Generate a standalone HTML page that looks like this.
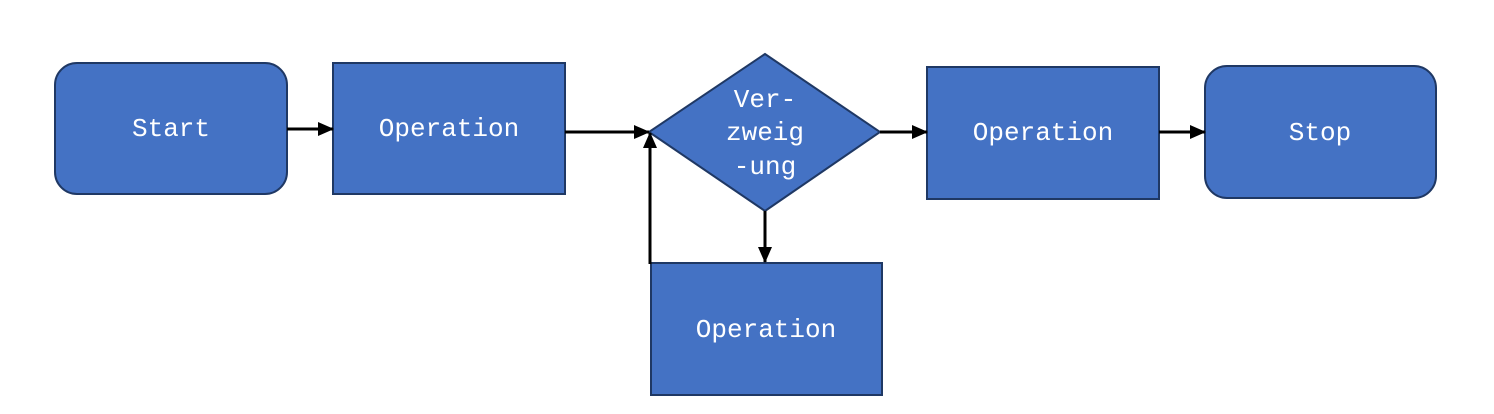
<!DOCTYPE html>
<html><head><meta charset="utf-8"><style>
html,body{margin:0;padding:0;background:#fff;width:1494px;height:414px;overflow:hidden}
svg text{font-family:"Liberation Mono",monospace;font-size:26px;fill:#fff;text-anchor:middle;dominant-baseline:central}
</style></head><body>
<svg width="1494" height="414" viewBox="0 0 1494 414" xmlns="http://www.w3.org/2000/svg">
<defs>
<marker id="b" markerWidth="16" markerHeight="14" refX="15" refY="7" orient="auto" markerUnits="userSpaceOnUse"><path d="M0,0 L16,7 L0,14 z" fill="#000"/></marker></defs>
<g fill="#4472c4" stroke="#1f3864" stroke-width="2">
<rect x="55" y="63" width="232" height="131" rx="22"/>
<rect x="333" y="63" width="232" height="131"/>
<polygon points="649,132 765,54 880,132 765,211"/>
<rect x="927" y="67" width="232" height="132"/>
<rect x="1205" y="66" width="231" height="132" rx="22"/>
<rect x="651" y="263" width="231" height="132"/>
</g>
<g stroke="#000" stroke-width="3" fill="none">
<line x1="287" y1="129" x2="333" y2="129" marker-end="url(#b)"/>
<line x1="565" y1="132" x2="649" y2="132" marker-end="url(#b)"/>
<line x1="880" y1="132" x2="927" y2="132" marker-end="url(#b)"/>
<line x1="1159" y1="132" x2="1205" y2="132" marker-end="url(#b)"/>
<line x1="765" y1="211" x2="765" y2="262" marker-end="url(#b)"/>
<line x1="650" y1="264" x2="650" y2="133" marker-end="url(#b)"/>
</g>
<text x="171" y="129">Start</text>
<text x="449" y="129">Operation</text>
<text x="765" y="100">Ver-</text>
<text x="765" y="133">zweig</text>
<text x="765" y="167">-ung</text>
<text x="1043" y="133">Operation</text>
<text x="1320" y="133">Stop</text>
<text x="766" y="330">Operation</text>
</svg>
</body></html>
